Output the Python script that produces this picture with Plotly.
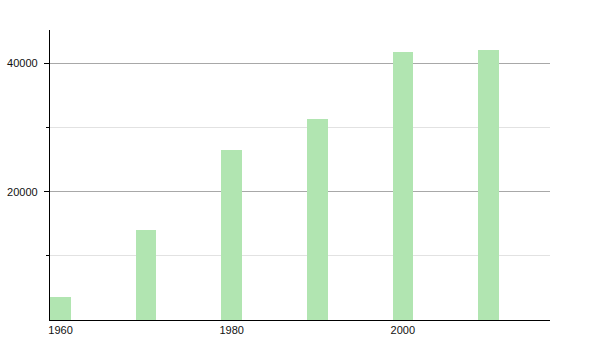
import plotly.graph_objects as go

years = [1960, 1970, 1980, 1990, 2000, 2010]
population = [3630, 14020, 26490, 31320, 41800, 42070]
x_tick_vals = [1960, 1980, 2000]
x_tick_text = ["1960", "1980", "2000"]
y_tick_vals = [20000, 40000]
y_tick_text = ["20000", "40000"]

fig = go.Figure()
fig.add_trace(go.Bar(
    x=years, y=population, width=2.4,
    marker=dict(color="#b1e5b1", line=dict(width=0)),
    hoverinfo="skip",
))

fig.update_layout(
    width=600, height=350,
    margin=dict(l=50, r=50, t=30, b=30),
    paper_bgcolor="white", plot_bgcolor="white",
    showlegend=False,
    font=dict(family="Liberation Sans, Arial, sans-serif", size=11, color="#111"),
    bargap=0,
)
fig.update_xaxes(
    range=[1958.77, 2017.2],
    tickmode="array", tickvals=x_tick_vals, ticktext=x_tick_text,
    showgrid=False, zeroline=False,
    showline=True, linecolor="black", linewidth=1.3,
    ticks="", ticklen=0, automargin=False,
)
fig.update_yaxes(
    range=[0, 45200],
    tickmode="array", tickvals=y_tick_vals, ticktext=y_tick_text,
    showgrid=True, gridcolor="#a8a8a8", gridwidth=1,
    zeroline=False,
    showline=True, linecolor="black", linewidth=1.3,
    ticks="outside", ticklen=5, tickcolor="black", tickwidth=1,
    ticklabelstandoff=4, automargin=False,
    minor=dict(tickvals=[10000, 30000], ticks="outside", ticklen=3,
               tickcolor="black", showgrid=True, gridcolor="#e2e2e2", gridwidth=1),
)

fig.write_html("out.html")
